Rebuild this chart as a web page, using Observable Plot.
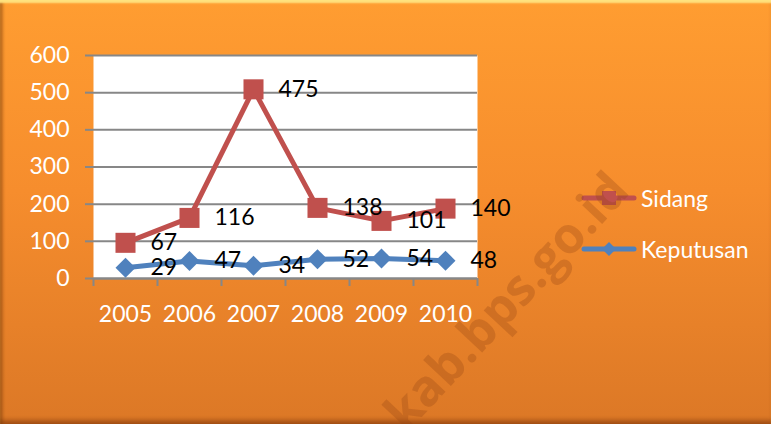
<!DOCTYPE html>
<html><head><meta charset="utf-8">
<script src="https://cdn.jsdelivr.net/npm/d3@7"></script>
<script src="https://cdn.jsdelivr.net/npm/@observablehq/plot@0.6"></script>
<style>
html,body{margin:0;padding:0;background:#fff;}
#chart{position:relative;width:771px;height:424px;overflow:hidden;
 background:linear-gradient(to bottom,#FF9D31 0%,#F68D2D 45%,#DC7826 100%);
 box-shadow: inset 0 4px 2px -1px #FFE27E, inset 4px 0 3px -1px rgba(120,60,10,0.45), inset 0 -6px 4px -2px rgba(120,50,10,0.55);
 font-family: Lato, sans-serif;}
#plot{position:absolute;left:0;top:0;}
.leg{position:absolute;left:581px;height:30px;display:flex;align-items:center;color:#fff;font-size:23px;font-family:Lato,sans-serif;}
.leg svg{margin-right:4px;}
#wm{position:absolute;left:505px;top:300px;transform:translate(-50%,-50%) rotate(-47deg);font:bold 50px "Open Sans",sans-serif;color:rgba(150,70,20,0.3);white-space:nowrap;pointer-events:none;}
</style></head>
<body>
<div id="chart"><div id="plot"></div><div id="legend"></div><div id="wm">kab.bps.go.id</div></div>
<script>
const years = [2005, 2006, 2007, 2008, 2009, 2010];
const sidang = [67, 116, 475, 138, 101, 140];
const keputusan = [29, 47, 34, 52, 54, 48];
const yTicks = [0, 100, 200, 300, 400, 500, 600];
const seriesNames = ["Sidang", "Keputusan"];
const colors = ["#C0504D", "#4F81BD"];

// stacked line chart: Sidang drawn on top of Keputusan
const kData = years.map((y, i) => ({year: y, value: keputusan[i], pos: keputusan[i]}));
const sData = years.map((y, i) => ({year: y, value: sidang[i], pos: sidang[i] + keputusan[i]}));
const bounds = years.map(y => y - 0.5).concat([years[years.length - 1] + 0.5]);

const gray = "#878787";
const chart = Plot.plot({
  width: 771, height: 424,
  marginLeft: 93, marginRight: 294, marginTop: 55, marginBottom: 146,
  style: {background: "transparent", fontFamily: "Lato, sans-serif", overflow: "visible"},
  x: {type: "linear", domain: [bounds[0], bounds[bounds.length - 1]]},
  y: {domain: [0, 600]},
  marks: [
    Plot.frame({fill: "white", stroke: null}),
    Plot.gridY(yTicks, {stroke: gray, strokeOpacity: 1, strokeWidth: 2}),
    Plot.axisY({ticks: yTicks, tickSize: 8, tickPadding: 16, stroke: gray, strokeWidth: 2, fill: "white", fontSize: 23, label: null}),
    Plot.axisX({ticks: bounds, tickSize: 8, tickFormat: () => "", stroke: gray, strokeWidth: 2, label: null}),
    Plot.axisX({ticks: years, tickSize: 0, tickPadding: 27, tickFormat: d => String(d), fill: "white", fontSize: 23, label: null}),
    Plot.ruleY([0], {stroke: gray, strokeWidth: 2}),
    Plot.lineY(kData, {x: "year", y: "pos", stroke: colors[1], strokeWidth: 5}),
    Plot.lineY(sData, {x: "year", y: "pos", stroke: colors[0], strokeWidth: 5}),
    Plot.dot(kData, {x: "year", y: "pos", symbol: "diamond2", r: 9, fill: colors[1], stroke: null}),
    Plot.dot(sData, {x: "year", y: "pos", symbol: "square", r: 11.3, fill: colors[0], stroke: null}),
    Plot.text(kData, {x: "year", y: "pos", text: "value", dx: 25, textAnchor: "start", fill: "black", fontSize: 23}),
    Plot.text(sData, {x: "year", y: "pos", text: "value", dx: 25, textAnchor: "start", fill: "black", fontSize: 23})
  ]
});
document.getElementById("plot").appendChild(chart);

const legendTops = [183, 234];
const legend = document.getElementById("legend");
seriesNames.forEach((name, i) => {
  const d = document.createElement("div");
  d.className = "leg";
  d.style.top = legendTops[i] + "px";
  const marker = i === 0
    ? `<rect x="21" y="8" width="14" height="14" fill="${colors[0]}"/>`
    : `<path d="M28 8 L35 15 L28 22 L21 15 Z" fill="${colors[1]}"/>`;
  d.innerHTML = `<svg width="56" height="30"><line x1="3" y1="15" x2="53" y2="15" stroke="${colors[i]}" stroke-width="5" stroke-linecap="round"/>${marker}</svg><span>${name}</span>`;
  legend.appendChild(d);
});
</script>
</body></html>
